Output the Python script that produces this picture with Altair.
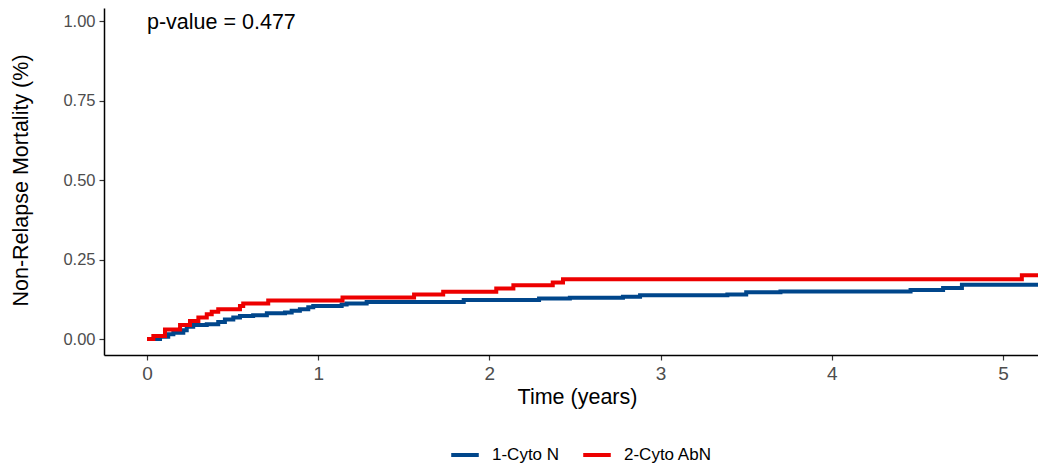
import altair as alt
import pandas as pd

groups = ["1-Cyto N", "2-Cyto AbN"]
colors = ["#00468B", "#ED0000"]

blue_time = [0, 0.037, 0.076, 0.124, 0.154, 0.212, 0.232, 0.27, 0.349, 0.416, 0.455, 0.504,
             0.543, 0.62, 0.70, 0.806, 0.845, 0.893, 0.942, 0.971, 1.137, 1.166, 1.283,
             1.85, 2.29, 2.47, 2.78, 2.88, 3.39, 3.50, 3.70, 4.46, 4.65, 4.76, 5.26]
blue_value = [0, 0.0, 0.007, 0.015, 0.020, 0.028, 0.039, 0.044, 0.047, 0.054, 0.062, 0.068,
              0.073, 0.075, 0.081, 0.084, 0.089, 0.094, 0.100, 0.104, 0.109, 0.112, 0.117,
              0.123, 0.128, 0.130, 0.133, 0.138, 0.140, 0.147, 0.150, 0.154, 0.161, 0.171, 0.171]

red_time = [0, 0.037, 0.105, 0.193, 0.251, 0.300, 0.349, 0.378, 0.416, 0.543, 0.562, 0.708,
            1.142, 1.56, 1.73, 2.04, 2.14, 2.37, 2.43, 5.11, 5.26]
red_value = [0, 0.010, 0.030, 0.044, 0.057, 0.068, 0.078, 0.086, 0.094, 0.104, 0.112, 0.121,
             0.131, 0.140, 0.149, 0.159, 0.169, 0.178, 0.188, 0.201, 0.201]

p_label = "p-value = 0.477"

df = pd.concat([
    pd.DataFrame({"time": blue_time, "value": blue_value, "group": groups[0]}),
    pd.DataFrame({"time": red_time, "value": red_value, "group": groups[1]}),
])

x_scale = alt.Scale(domain=[-0.2512, 5.2044], nice=False, zero=False)
y_scale = alt.Scale(domain=[-0.05, 1.041], nice=False, zero=False)

lines = alt.Chart(df).mark_line(interpolate="step-after", strokeWidth=4, clip=True).encode(
    x=alt.X("time:Q", scale=x_scale,
            axis=alt.Axis(values=[0, 1, 2, 3, 4, 5], title="Time (years)", format="d",
                          labelFontSize=19, labelPadding=4,
                          titleX=473, titleY=48, titleBaseline="alphabetic", titleAlign="center")),
    y=alt.Y("value:Q", scale=y_scale,
            axis=alt.Axis(values=[0, 0.25, 0.5, 0.75, 1.0], format=".2f",
                          labelFontSize=16.5, labelPadding=4,
                          title="Non-Relapse Mortality (%)", titleAngle=270,
                          titleX=-77, titleY=172, titleBaseline="alphabetic", titleAlign="center")),
    color=alt.Color("group:N", scale=alt.Scale(domain=groups, range=colors),
                    legend=alt.Legend(title=None, orient="none", direction="horizontal",
                                      legendX=345, legendY=431, symbolType="stroke",
                                      symbolStrokeWidth=4, symbolSize=760, labelFontSize=17,
                                      labelColor="black", labelOffset=11, columnPadding=15,
                                      padding=0)),
)

text = alt.Chart(pd.DataFrame({"x": [0], "y": [1.0], "label": [p_label]})).mark_text(
    align="left", baseline="alphabetic", fontSize=21.5, color="black", dy=8
).encode(x=alt.X("x:Q", scale=x_scale), y=alt.Y("y:Q", scale=y_scale), text="label:N")

chart = alt.layer(lines, text).properties(
    width=934, height=347,
    padding={"left": 96, "top": 0, "right": 0, "bottom": 110},
    autosize=alt.AutoSizeParams(type="none"),
).configure(font="Liberation Sans").configure_view(stroke=None).configure_axis(
    grid=False, domainColor="black", domainWidth=1.5, tickColor="#333333", tickSize=5,
    tickWidth=1.2, labelColor="#4D4D4D",
    titleFontSize=21.5, titleColor="black", titleFontWeight="normal",
)

chart.save("out.html", embed_options={"renderer": "svg", "actions": False})
